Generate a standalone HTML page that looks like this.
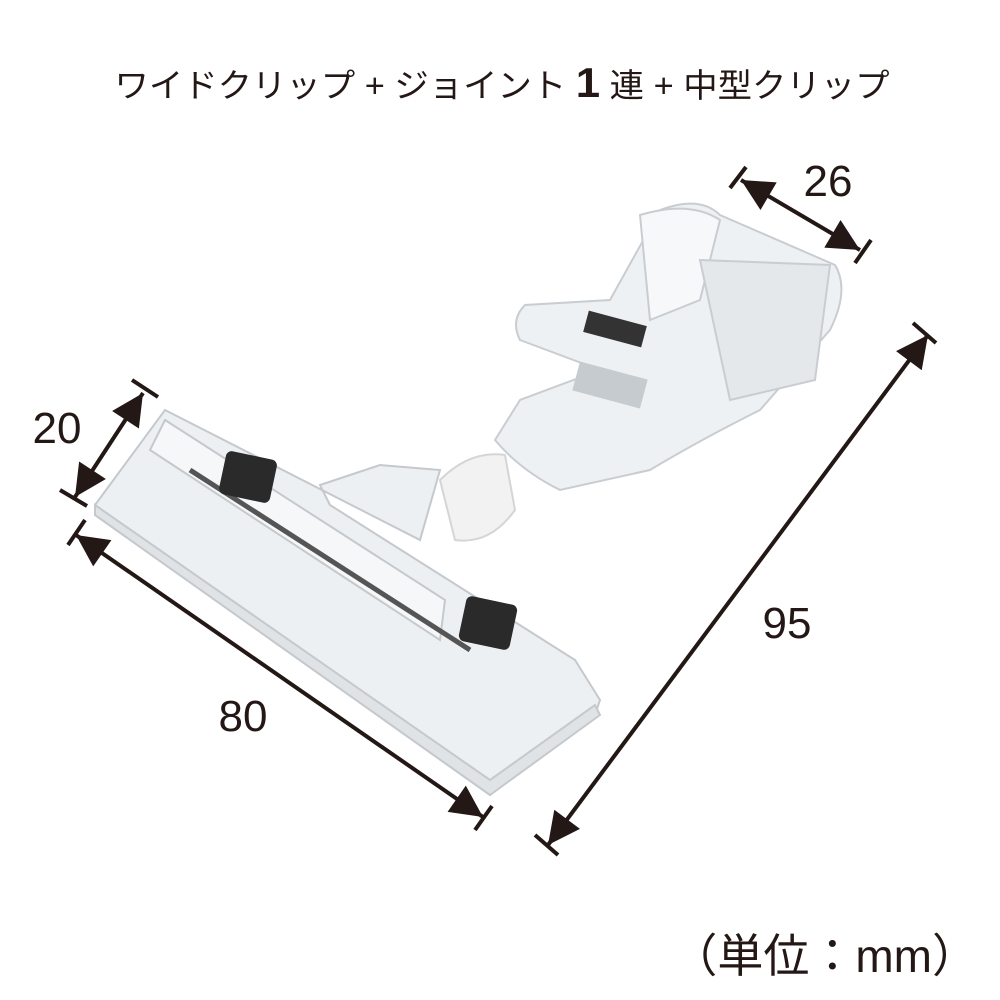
<!DOCTYPE html>
<html><head><meta charset="utf-8"><style>
html,body{margin:0;padding:0;background:#fff;}
svg{display:block}
text{font-family:"Liberation Sans","Noto Sans CJK JP",sans-serif;fill:#231815}
</style></head><body>
<svg width="1000" height="1000" viewBox="0 0 1000 1000" xmlns="http://www.w3.org/2000/svg">
<defs>
<marker id="ah" viewBox="0 0 10 10" refX="10" refY="5" markerWidth="9" markerHeight="8" orient="auto-start-reverse" markerUnits="strokeWidth">
<path d="M0,0 L10,5 L0,10 z" fill="#231815"/></marker>
</defs>
<text x="502" y="97" font-size="33" text-anchor="middle" textLength="775" lengthAdjust="spacingAndGlyphs">ワイドクリップ + ジョイント <tspan font-weight="bold" font-size="42">1</tspan> 連 + 中型クリップ</text>

<!-- upper clip -->
<g fill="#eef1f3" stroke="#c9cdd1" stroke-width="2">
<path d="M660,210 Q700,195 720,215 L835,265 Q850,290 830,330 L760,410 Q700,440 650,470 L560,490 Q520,470 495,440 L520,400 L600,370 L520,340 Q510,320 525,305 L610,300 Z"/>
<path d="M640,215 Q690,200 720,220 L700,300 L650,320 Z" fill="#f7f8f9"/>
<path d="M700,260 L830,265 L815,380 L730,400 Z" fill="#e4e8eb"/>
</g>
<rect x="585" y="318" width="60" height="22" fill="#333" transform="rotate(15 615 329)"/>
<rect x="575" y="370" width="70" height="30" fill="#c6cbd0" transform="rotate(15 610 385)"/>
<!-- joint -->
<path d="M440,480 Q470,450 505,455 L515,510 Q490,545 455,540 Z" fill="#f2f2f2" stroke="#d5d5d5" stroke-width="2"/>
<!-- base clip -->
<g fill="#edf0f2" stroke="#c5c9cd" stroke-width="2">
<path d="M95,505 L165,410 L420,540 L440,470 L380,465 L320,485 L330,505 L575,660 L600,700 L595,715 L490,795 L95,515 Z"/>
<path d="M95,505 L490,780 L595,705 L600,715 L490,795 L95,515 Z" fill="#dfe3e6"/>
<path d="M150,450 L440,640 L445,600 L165,420 Z" fill="#f6f7f8"/>
</g>
<line x1="190" y1="470" x2="470" y2="650" stroke="#555" stroke-width="5"/>
<rect x="222" y="455" width="52" height="44" rx="6" fill="#2a2a2a" transform="rotate(12 248 477)"/>
<rect x="462" y="600" width="52" height="46" rx="6" fill="#2a2a2a" transform="rotate(12 488 623)"/>

<!-- dimensions -->
<g stroke="#231815" stroke-width="4" fill="none">
<line x1="741" y1="180" x2="860" y2="250" marker-start="url(#ah)" marker-end="url(#ah)"/>
<line x1="730" y1="188" x2="746" y2="167"/><line x1="855" y1="263" x2="871" y2="240"/>
<line x1="143" y1="393" x2="75" y2="497" marker-start="url(#ah)" marker-end="url(#ah)"/>
<line x1="132" y1="380" x2="158" y2="397"/><line x1="60" y1="490" x2="87" y2="506"/>
<line x1="76" y1="535" x2="483" y2="817" marker-start="url(#ah)" marker-end="url(#ah)"/>
<line x1="68" y1="545" x2="85" y2="520"/><line x1="475" y1="830" x2="492" y2="806"/>
<line x1="928" y1="335" x2="548" y2="845" marker-start="url(#ah)" marker-end="url(#ah)"/>
<line x1="913" y1="323" x2="936" y2="343"/><line x1="535" y1="835" x2="558" y2="855"/>
</g>
<text x="828" y="196" font-size="44" text-anchor="middle">26</text>
<text x="57" y="443" font-size="44" text-anchor="middle">20</text>
<text x="243" y="731" font-size="44" text-anchor="middle">80</text>
<text x="787" y="638" font-size="44" text-anchor="middle">95</text>
<text x="978" y="972" font-size="46" text-anchor="end">（単位：mm）</text>
</svg>
</body></html>
